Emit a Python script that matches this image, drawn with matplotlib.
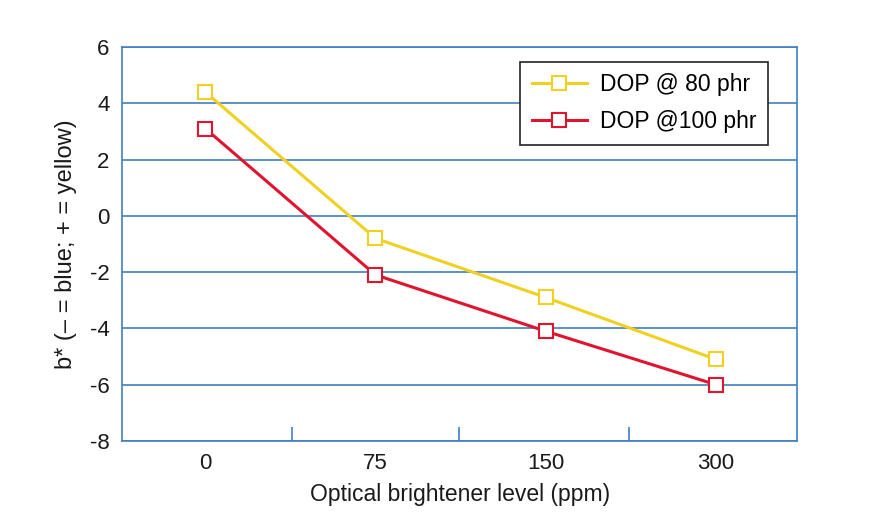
import matplotlib
matplotlib.use("Agg")
import matplotlib.pyplot as plt

plt.rcParams['font.family'] = ['Liberation Sans', 'DejaVu Sans']
plt.rcParams['axes.unicode_minus'] = False

levels = ['0', '75', '150', '300']
dop_80 = [4.4, -0.8, -2.9, -5.1]
dop_100 = [3.1, -2.1, -4.1, -6.0]

grid_blue = '#3f7fc4'
yellow = '#f0d020'
red = '#e0142e'

fig = plt.figure(figsize=(8.84, 5.28), dpi=100)
ax = fig.add_axes([0.138, 0.165, 0.764, 0.746])

x = list(range(len(levels)))
ax.plot(x, dop_80, color=yellow, lw=2.2, marker='s', ms=9.5, mfc='white',
        mec=yellow, mew=1.5, label='DOP @ 80 phr')
ax.plot(x, dop_100, color=red, lw=2.2, marker='s', ms=9.5, mfc='white',
        mec=red, mew=1.5, label='DOP @100 phr')

ax.set_xlim(-0.49, 3.48)
ax.set_ylim(-8, 6)
ax.set_yticks(range(-8, 7, 2))
ax.set_xticks(x)
ax.set_xticklabels(levels)
ax.set_xticks([0.51, 1.49, 2.49], minor=True)
ax.tick_params(axis='x', which='major', length=0, pad=9, labelsize=16,
               labelcolor='#1a1a1a')
ax.tick_params(axis='x', which='minor', direction='in', length=10,
               width=1.2, color=grid_blue)
ax.tick_params(axis='y', length=0, pad=9, labelsize=16, labelcolor='#1a1a1a')

for s in ax.spines.values():
    s.set_color(grid_blue)
    s.set_linewidth(1.2)

ax.yaxis.grid(True, color=grid_blue, lw=1.2)
ax.set_axisbelow(True)

ax.set_xlabel('Optical brightener level (ppm)', fontsize=16.5, labelpad=6,
              color='#1a1a1a')
ax.set_ylabel('b* (\u2013 = blue; + = yellow)', fontsize=17, labelpad=9,
              color='#1a1a1a')

leg = ax.legend(loc='upper right', bbox_to_anchor=(0.957, 0.962),
                borderaxespad=0, fontsize=16.5,
                frameon=True, fancybox=False, edgecolor='#222222',
                framealpha=1, borderpad=0.5, labelspacing=0.6,
                handlelength=2.4, handletextpad=0.6)
leg.get_frame().set_linewidth(1.2)

fig.savefig('out.png', dpi=100)
